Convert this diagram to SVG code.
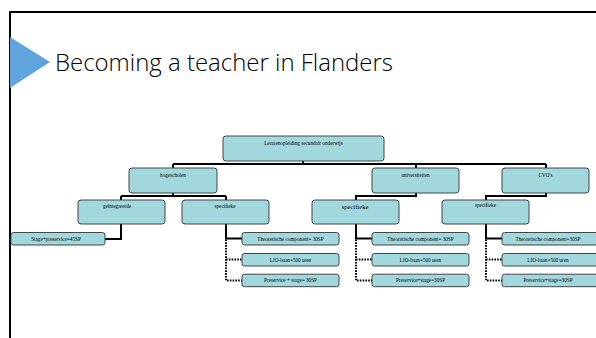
<svg xmlns="http://www.w3.org/2000/svg" width="596" height="338" viewBox="0 0 596 338">
<style>
.box{fill:#a0d8dd;stroke:#444;stroke-width:1}
.lbl{font-family:"Liberation Serif",serif;font-size:5.2px;fill:#000;text-anchor:middle}
.big{font-size:6.6px}
.c{fill:none;stroke:#000;stroke-width:2}
.d{fill:none;stroke:#000;stroke-width:2;stroke-dasharray:1.6 1.2}
</style>
<rect x="0" y="0" width="596" height="338" fill="#fff"/>
<path d="M10,338 V12 H596" fill="none" stroke="#000" stroke-width="2"/>
<polygon points="10,37 50,62 10,88" fill="#5fa4dc"/>
<text x="55" y="71" font-family="'Open Sans','Noto Sans',sans-serif" font-weight="300" font-size="23" fill="#000" textLength="338" lengthAdjust="spacingAndGlyphs">Becoming a teacher in Flanders</text>
<g id="connectors">
<path class="c" d="M303,161 V164 M173,164 H546 M173,164 V168 M416,164 V168 M546,164 V168"/>
<path class="c" d="M173,193 V196 M121,196 H226 M121,196 V200 M226,196 V200"/>
<path class="c" d="M416,193 V196 H356 V200"/>
<path class="c" d="M546,193 V196 H486 V200"/>
<path class="c" d="M121,224 V239 H105"/>
<path class="c" d="M226,224 V238.5 H242"/>
<path class="d" d="M226,239.5 V280.5 H242 M226,259.5 H242"/>
<path class="c" d="M356,224 V238.5 H372"/>
<path class="d" d="M356,239.5 V280.5 H372 M356,259.5 H372"/>
<path class="c" d="M486,224 V238.5 H502"/>
<path class="d" d="M486,239.5 V280.5 H502 M486,259.5 H502"/>
</g>
<g id="n-root"><rect class="box" x="223" y="136" width="161" height="25" rx="3"/><text class="lbl" x="303.5" y="144.5">Lerarenopleiding secundair onderwijs</text></g>
<g id="n-hogescholen"><rect class="box" x="129" y="168" width="88" height="25" rx="3"/><text class="lbl" x="173" y="176.8">hogescholen</text></g>
<g id="n-universiteiten"><rect class="box" x="372" y="168" width="87" height="25" rx="3"/><text class="lbl" x="415.5" y="176.8">universiteiten</text></g>
<g id="n-cvo"><rect class="box" x="502" y="168" width="87" height="25" rx="3"/><text class="lbl" x="545.5" y="176.8">CVO's</text></g>
<g id="n-geintegreerde"><rect class="box" x="78" y="200" width="87" height="24" rx="3"/><text class="lbl" x="117" y="207.5">geïntegreerde</text></g>
<g id="n-spec-h"><rect class="box" x="182" y="200" width="87" height="24" rx="3"/><text class="lbl" x="225" y="207.5">specifieke</text></g>
<g id="n-spec-u"><rect class="box" x="312" y="200" width="87" height="24" rx="3"/><text class="lbl big" x="355" y="208.8">specifieke</text></g>
<g id="n-spec-c"><rect class="box" x="442" y="200" width="87" height="24" rx="3"/><text class="lbl" x="485.5" y="207.3">specifieke</text></g>
<g id="n-stage"><rect class="box" x="11" y="232.5" width="94" height="12.5" rx="2.5"/><text class="lbl" x="56" y="240.5">Stage+preservice=45SP</text></g>
<g id="n-h1"><rect class="box" x="242" y="232.5" width="97" height="12.5" rx="2.5"/><text class="lbl" x="290.5" y="240.5">Theoretische component= 30SP</text></g>
<g id="n-h2"><rect class="box" x="242" y="253.5" width="97" height="12.5" rx="2.5"/><text class="lbl" x="290.5" y="261.5">LIO-baan=500 uren</text></g>
<g id="n-h3"><rect class="box" x="242" y="274.2" width="97" height="12.5" rx="2.5"/><text class="lbl" x="290.5" y="282.2">Preservice + stage= 30SP</text></g>
<g id="n-u1"><rect class="box" x="372" y="232.5" width="97" height="12.5" rx="2.5"/><text class="lbl" x="420.5" y="240.5">Theoretische component= 30SP</text></g>
<g id="n-u2"><rect class="box" x="372" y="253.5" width="97" height="12.5" rx="2.5"/><text class="lbl" x="420.5" y="261.5">LIO-baan=500 uren</text></g>
<g id="n-u3"><rect class="box" x="372" y="274.2" width="97" height="12.5" rx="2.5"/><text class="lbl" x="420.5" y="282.2">Preservice+stage=30SP</text></g>
<g id="n-c1"><rect class="box" x="502" y="232.5" width="97" height="12.5" rx="2.5"/><text class="lbl" x="548" y="240.5">Theoretische component=30SP</text></g>
<g id="n-c2"><rect class="box" x="502" y="253.5" width="97" height="12.5" rx="2.5"/><text class="lbl" x="548" y="261.5">LIO-baan=500 uren</text></g>
<g id="n-c3"><rect class="box" x="502" y="274.2" width="97" height="12.5" rx="2.5"/><text class="lbl" x="548" y="282.2">Preservice+stage=30SP</text></g>
</svg>
